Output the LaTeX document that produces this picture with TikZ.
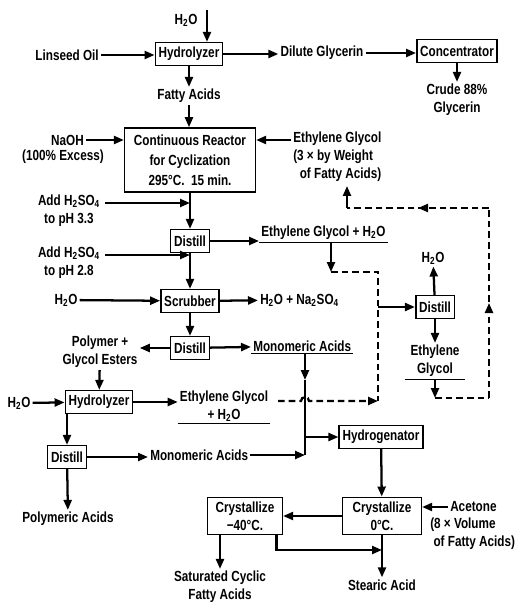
\documentclass[tikz,border=0pt]{standalone}
\usepackage{fontspec}
\setmainfont{Liberation Sans}[FakeStretch=0.8]
\usepackage{tikz}
\usetikzlibrary{positioning, arrows.meta, decorations.markings}
\newcommand{\flowfont}{\fontsize{11}{13.5}\selectfont\bfseries}
\newcommand{\wat}{H\textsubscript{2}O}
\newcommand{\acid}{H\textsubscript{2}SO\textsubscript{4}}

\begin{document}
\begin{tikzpicture}[x=0.75pt, y=-0.75pt,
  box/.style={draw, line width=1.2pt, font=\flowfont, inner sep=2.5pt, minimum height=17pt, align=center},
  lbl/.style={font=\flowfont, inner sep=1.5pt, align=center},
  flow/.style={line width=1.7pt, -{Triangle[length=7.5pt,width=6pt]}},
  pipe/.style={line width=1.7pt},
  recycle/.style={line width=1.7pt, dash pattern=on 5pt off 3pt},
  underl/.style={line width=0.9pt},
  midarrow/.style={postaction={decorate}, decoration={markings, mark=at position 0.5 with {\arrow{Triangle[length=7.5pt,width=6pt]}}}}
]
  \useasboundingbox (0,0) rectangle (531,602);

  % Hydrolysis of the oil
  \node[box] (hyd) at (189,54) {Hydrolyzer};
  \node[lbl] (wtop) at (186,20) {\wat};
  \coordinate (wtopin) at (207,10);
  \draw[flow] (wtopin) -- (wtopin |- hyd.north);
  \node[lbl, anchor=east] (oil) at (101,55) {Linseed Oil};
  \draw[flow] (oil.east) -- (oil.east -| hyd.west);
  \node[lbl] (dil) at (322,53) {Dilute Glycerin};
  \draw[flow] (hyd.east) -- (hyd.east -| dil.west);
  \node[box] (conc) at (457,51) {Concentrator};
  \draw[flow] (dil.east) -- (dil.east -| conc.west);
  \node[lbl] (crude) at (457,100) {Crude 88\%\\Glycerin};
  \draw[flow] (conc) -- (crude);
  \node[lbl] (fatty) at (189,96) {Fatty Acids};
  \draw[flow] (hyd) -- (fatty);

  % Reactor
  \node[box, minimum width=98pt, minimum height=48pt, font={\fontsize{11}{15}\selectfont\bfseries}] (reac) at (190,160) {Continuous Reactor\\for Cyclization\\295°C.\ \ 15 min.};
  \draw[flow] (fatty.south) -- (fatty.south |- reac.north);
  \node[lbl, anchor=east] (naoh) at (86,140) {NaOH};
  \node[lbl] (excess) at (63,157) {(100\% Excess)};
  \draw[flow] (naoh.east) -- (naoh.east -| reac.west);
  \node[lbl, align=left, anchor=north west] (egfeed) at (291,130) {Ethylene Glycol\\(3 × by Weight\\\ \ of Fatty Acids)};
  \coordinate (egin) at (291,140);
  \draw[flow] (egin) -- (egin -| reac.east);

  % Acidify and distill
  \node[box] (dis1) at (190,241) {Distill};
  \draw[flow] (reac) -- (dis1);
  \node[lbl] (acid1) at (69,211) {Add \acid\\to pH 3.3};
  \coordinate (a1) at (105,203);
  \draw[flow] (a1) -- (a1 -| reac.south);
  \node[lbl, anchor=west] (egw1) at (259,233) {Ethylene Glycol + \wat};
  \draw[underl] (egw1.south west) -- (egw1.south east);
  \draw[flow] (dis1.east) -- (dis1.east -| egw1.west);
  \coordinate (d1) at (331,272);
  \draw[flow] (d1 |- egw1.south) -- (d1);

  % Scrubber
  \node[box] (scr) at (190,301) {Scrubber};
  \draw[flow] (dis1) -- (scr);
  \node[lbl] (acid2) at (69,263) {Add \acid\\to pH 2.8};
  \coordinate (a2) at (105,255);
  \draw[flow] (a2) -- (a2 -| dis1.south);
  \node[lbl] (w3) at (66,300) {\wat};
  \draw[flow] (w3) -- (scr);
  \node[lbl, anchor=west] (salt) at (258,300) {\wat{} + Na\textsubscript{2}SO\textsubscript{4}};
  \draw[flow] (scr) -- (salt);

  % Second distillation
  \node[box] (dis3) at (190,348) {Distill};
  \draw[flow] (scr) -- (dis3);
  \node[lbl] (poly) at (100,352) {Polymer +\\Glycol Esters};
  \draw[flow] (dis3.west) -- (dis3.west -| poly.east);
  \node[lbl, anchor=west] (mono1) at (251,346) {Monomeric Acids};
  \draw[underl] (mono1.south west) -- (mono1.south east);
  \draw[flow] (dis3) -- (mono1);
  \coordinate (mx1) at (305,380);
  \coordinate (mx2) at (305,455);
  \draw[flow] (mx1 |- mono1.south) -- (mx1);
  \draw[pipe] (mx1) -- (mx2);

  % Glycol recovery
  \node[box] (dis2) at (435,307) {Distill};
  \node[lbl] (w2) at (433,258) {\wat};
  \draw[flow] (dis2) -- (w2);
  \node[lbl, minimum width=45pt] (egp) at (435,361) {Ethylene\\Glycol};
  \draw[underl] (egp.south west) -- (egp.south east);
  \draw[flow] (dis2) -- (egp);
  \coordinate (jn) at (378,401);
  \coordinate (jm) at (378,307);
  \draw[recycle] (d1) -| (jn);
  \draw[flow] (jm) -- (dis2.west);
  \coordinate (c1) at (435,398);
  \coordinate (c2) at (489,398);
  \coordinate (c3) at (489,208);
  \coordinate (c4) at (347,208);
  \coordinate (c5) at (347,186);
  \draw[flow] (egp.south) -- (c1);
  \draw[recycle] (c1) -- (c2);
  \draw[recycle, midarrow] (c2) -- (c3);
  \draw[recycle, midarrow] (c3) -- (c4);
  \draw[flow] (c4) -- (c5);

  % Hydrolysis of polymer
  \node[box] (hyd2) at (99,402) {Hydrolyzer};
  \draw[flow] (poly) -- (hyd2);
  \node[lbl] (w4) at (19,403) {\wat};
  \draw[flow] (w4) -- (hyd2);
  \node[lbl] (egw2) at (224,406) {Ethylene Glycol\\+ \wat};
  \draw[underl] (egw2.south west) -- (egw2.south east);
  \draw[flow] (hyd2.east) -- (hyd2.east -| egw2.west);
  \coordinate (e2) at (278,401);
  \draw[recycle, -{Triangle[length=7.5pt,width=6pt]}] (e2) -- (301,401) arc[start angle=180, end angle=360, radius=4] -- (jn);

  \node[box] (dis4) at (67,457) {Distill};
  \draw[flow] (hyd2.south -| dis4.north) -- (dis4.north);
  \node[lbl, anchor=west] (mono2) at (148,455) {Monomeric Acids};
  \draw[flow] (dis4.east) -- (dis4.east -| mono2.west);
  \draw[flow] (mono2) -- (mx2);
  \node[lbl] (polyac) at (68,519) {Polymeric Acids};
  \draw[flow] (dis4) -- (polyac);

  % Hydrogenation and crystallization
  \node[box] (hydg) at (381,437) {Hydrogenator};
  \draw[flow] (hydg.west -| mx1) -- (hydg.west);
  \node[box, minimum width=59pt, minimum height=28pt] (cry0) at (382,516) {Crystallize\\0°C.};
  \draw[flow] (hydg) -- (cry0);
  \node[lbl, anchor=west] (acet) at (448,507) {Acetone};
  \node[lbl, align=left, anchor=north west] (acet2) at (428,516) {(8 × Volume\\\ of Fatty Acids)};
  \draw[flow] (acet.west) -- (acet.west -| cry0.east);
  \node[box, minimum width=56pt, minimum height=28pt] (cry40) at (245,516) {Crystallize\\−40°C.};
  \draw[flow] (cry0) -- (cry40);
  \node[lbl] (satac) at (220,587) {Saturated Cyclic\\Fatty Acids};
  \draw[flow] (cry40.south -| satac.north) -- (satac);
  \node[lbl] (stear) at (382,585) {Stearic Acid};
  \draw[flow] (cry0) -- (stear);
  \coordinate (sx) at (382,550);
  \draw[flow] ([xshift=-5pt]cry40.south east) |- (sx);
\end{tikzpicture}
\end{document}
